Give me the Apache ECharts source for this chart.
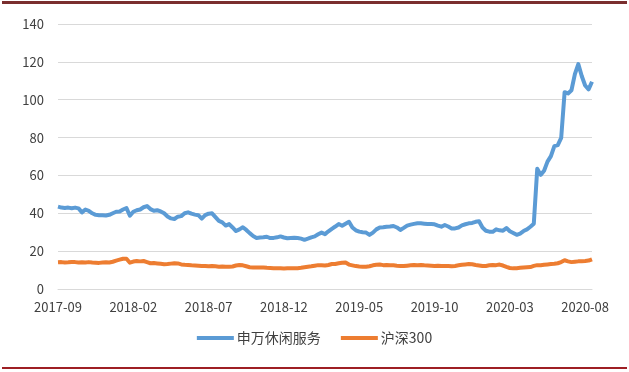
<!DOCTYPE html>
<html>
<head>
<meta charset="utf-8">
<script src="https://cdn.jsdelivr.net/npm/echarts@6/dist/echarts.min.js"></script>
<style>
html,body{margin:0;padding:0;background:#fff;}
#chart{width:629px;height:372px;}
</style>
</head>
<body>
<div id="chart"></div>
<script>
// Weekly observations starting from this date
const startDate = '2017-09-01';
const pointCount = 157;
const tickLabels = ['2017-09','2018-02','2018-07','2018-12','2019-05','2019-10','2020-03','2020-08'];
const seriesNames = ['申万休闲服务', '沪深300'];
const yTicks = [0, 20, 40, 60, 80, 100, 120, 140];

const leisure = [
43.5,43.0,42.8,43.0,42.7,43.0,42.6,40.5,42.0,41.3,
40.0,39.2,39.0,39.0,38.8,39.2,40.0,40.8,41.0,42.0,
42.8,38.7,40.8,41.6,42.0,43.2,43.8,42.2,41.3,41.6,
41.0,40.0,38.3,37.3,37.0,38.2,38.5,40.0,40.5,39.8,
39.3,39.0,37.2,39.0,39.8,40.0,38.0,36.0,35.2,33.5,
34.3,32.5,30.6,31.5,32.6,31.2,29.5,28.0,27.0,27.2,
27.3,27.6,26.9,27.0,27.3,27.8,27.2,26.8,27.0,27.1,
26.9,26.6,26.0,26.6,27.3,27.8,28.9,29.8,29.0,30.5,
31.8,33.0,34.3,33.4,34.5,35.5,32.5,31.0,30.3,30.0,
29.8,28.6,29.8,31.5,32.5,32.6,32.9,33.0,33.3,32.5,
31.2,32.3,33.5,34.0,34.4,34.7,34.7,34.5,34.3,34.3,
34.2,33.5,32.9,33.8,33.0,32.0,32.0,32.5,33.6,34.2,
34.7,34.9,35.5,35.8,32.5,30.8,30.3,30.2,31.5,31.0,
30.8,32.2,30.5,29.6,28.6,29.3,30.6,31.5,32.9,34.5,
63.5,60.3,62.5,67.3,70.2,75.5,76.0,79.8,104.0,103.3,
105.0,113.5,118.8,112.5,107.5,105.5,109.5
];

const hs300 = [
14.1,14.2,14.0,14.1,14.3,14.2,14.0,14.1,14.0,14.2,
14.0,13.9,13.8,14.0,14.1,14.0,14.4,15.0,15.5,16.0,
16.0,13.9,14.5,14.8,14.6,14.8,14.2,13.6,13.7,13.5,
13.3,13.1,13.2,13.4,13.6,13.5,13.0,12.8,12.7,12.5,
12.4,12.3,12.1,12.2,12.0,12.1,12.0,11.8,11.9,11.8,
11.8,11.9,12.4,12.7,12.5,12.0,11.5,11.4,11.3,11.3,
11.4,11.2,11.1,11.0,10.9,10.9,10.8,10.9,10.9,11.0,
11.0,11.2,11.5,11.8,12.0,12.3,12.6,12.5,12.4,12.7,
13.2,13.2,13.6,13.9,14.0,12.9,12.5,12.1,11.9,11.8,
11.8,12.0,12.5,12.8,12.9,12.6,12.7,12.6,12.5,12.3,
12.2,12.1,12.3,12.5,12.7,12.6,12.7,12.5,12.4,12.3,
12.2,12.3,12.2,12.1,12.1,12.0,12.2,12.5,12.8,13.0,
13.2,13.1,12.7,12.4,12.1,12.2,12.5,12.7,12.6,12.9,
12.4,11.7,11.1,10.9,11.0,11.2,11.4,11.5,11.6,12.2,
12.6,12.5,12.8,13.0,13.2,13.3,13.6,14.2,15.2,14.6,
14.2,14.4,14.6,14.7,14.8,15.0,15.7
];

// Weekly category dates
const categories = [];
(function(){
  const d0 = new Date(startDate + 'T00:00:00Z');
  for (let i = 0; i < pointCount; i++) {
    const d = new Date(d0.getTime() + i * 7 * 86400000);
    categories.push(d.toISOString().slice(0, 10));
  }
})();

const chart = echarts.init(document.getElementById('chart'), null, {renderer: 'canvas'});
const font = "'Noto Sans CJK SC', 'Noto Sans', sans-serif";

chart.setOption({
  animation: false,
  backgroundColor: '#fff',
  grid: {left: 58, right: 37, top: 24, bottom: 83, containLabel: false},
  legend: {
    data: seriesNames,
    bottom: 22,
    left: 'center',
    icon: 'rect',
    itemWidth: 37,
    itemHeight: 4,
    itemGap: 20,
    textStyle: {fontFamily: font, fontSize: 14, color: '#404040', padding: [0, 0, 0, -2]}
  },
  xAxis: {
    type: 'category',
    data: categories,
    boundaryGap: false,
    axisLine: {show: true, lineStyle: {color: '#D9D9D9', width: 1}},
    axisTick: {show: false},
    axisLabel: {
      interval: 21,
      margin: 12,
      color: '#404040',
      fontFamily: font,
      fontSize: 13,
      formatter: function (v) {
        const m = v.slice(0, 7);
        return tickLabels.indexOf(m) >= 0 ? m : '';
      }
    },
    splitLine: {show: false}
  },
  yAxis: {
    type: 'value',
    min: yTicks[0],
    max: yTicks[yTicks.length - 1],
    interval: 20,
    axisLine: {show: false},
    axisTick: {show: false},
    axisLabel: {margin: 14, color: '#404040', fontFamily: font, fontSize: 13},
    splitLine: {lineStyle: {color: '#D9D9D9', width: 1}}
  },
  series: [
    {
      name: seriesNames[0],
      type: 'line',
      data: leisure,
      showSymbol: false,
      symbol: 'none',
      lineStyle: {color: '#5B9BD5', width: 4, join: 'round'},
      itemStyle: {color: '#5B9BD5'}
    },
    {
      name: seriesNames[1],
      type: 'line',
      data: hs300,
      showSymbol: false,
      symbol: 'none',
      lineStyle: {color: '#ED7D31', width: 4, join: 'round'},
      itemStyle: {color: '#ED7D31'}
    }
  ],
  graphic: [
    {type: 'rect', shape: {x: 2, y: 1, width: 625, height: 3}, style: {fill: '#7a2e2e'}, silent: true},
    {type: 'rect', shape: {x: 2, y: 367, width: 625, height: 2}, style: {fill: '#9e1f24'}, silent: true}
  ]
});
</script>
</body>
</html>
